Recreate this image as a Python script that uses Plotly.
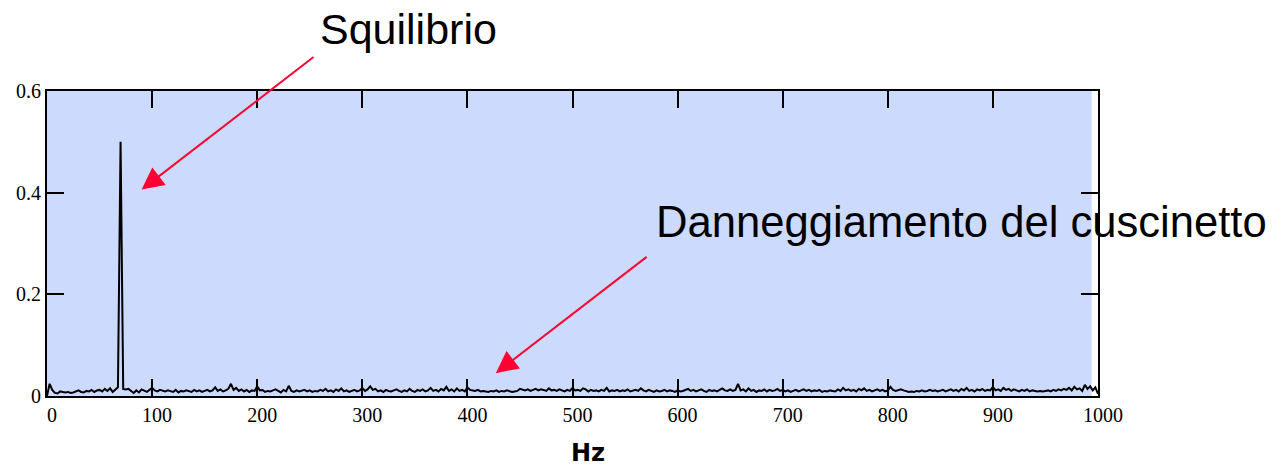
import plotly.graph_objects as go

# Frequency grid (Hz)
freqs = [
    0, 2.5, 5, 7.5, 10, 12.5, 15, 17.5, 20, 22.5, 25, 27.5, 30, 32.5, 35, 37.5, 40, 42.5, 45, 47.5,
    50, 52.5, 55, 57.5, 60, 62.5, 65, 67.5, 70, 72.5, 75, 77.5, 80, 82.5, 85, 87.5, 90, 92.5, 95, 97.5,
    100, 102.5, 105, 107.5, 110, 112.5, 115, 117.5, 120, 122.5, 125, 127.5, 130, 132.5, 135, 137.5, 140, 142.5, 145, 147.5,
    150, 152.5, 155, 157.5, 160, 162.5, 165, 167.5, 170, 172.5, 175, 177.5, 180, 182.5, 185, 187.5, 190, 192.5, 195, 197.5,
    200, 202.5, 205, 207.5, 210, 212.5, 215, 217.5, 220, 222.5, 225, 227.5, 230, 232.5, 235, 237.5, 240, 242.5, 245, 247.5,
    250, 252.5, 255, 257.5, 260, 262.5, 265, 267.5, 270, 272.5, 275, 277.5, 280, 282.5, 285, 287.5, 290, 292.5, 295, 297.5,
    300, 302.5, 305, 307.5, 310, 312.5, 315, 317.5, 320, 322.5, 325, 327.5, 330, 332.5, 335, 337.5, 340, 342.5, 345, 347.5,
    350, 352.5, 355, 357.5, 360, 362.5, 365, 367.5, 370, 372.5, 375, 377.5, 380, 382.5, 385, 387.5, 390, 392.5, 395, 397.5,
    400, 402.5, 405, 407.5, 410, 412.5, 415, 417.5, 420, 422.5, 425, 427.5, 430, 432.5, 435, 437.5, 440, 442.5, 445, 447.5,
    450, 452.5, 455, 457.5, 460, 462.5, 465, 467.5, 470, 472.5, 475, 477.5, 480, 482.5, 485, 487.5, 490, 492.5, 495, 497.5,
    500, 502.5, 505, 507.5, 510, 512.5, 515, 517.5, 520, 522.5, 525, 527.5, 530, 532.5, 535, 537.5, 540, 542.5, 545, 547.5,
    550, 552.5, 555, 557.5, 560, 562.5, 565, 567.5, 570, 572.5, 575, 577.5, 580, 582.5, 585, 587.5, 590, 592.5, 595, 597.5,
    600, 602.5, 605, 607.5, 610, 612.5, 615, 617.5, 620, 622.5, 625, 627.5, 630, 632.5, 635, 637.5, 640, 642.5, 645, 647.5,
    650, 652.5, 655, 657.5, 660, 662.5, 665, 667.5, 670, 672.5, 675, 677.5, 680, 682.5, 685, 687.5, 690, 692.5, 695, 697.5,
    700, 702.5, 705, 707.5, 710, 712.5, 715, 717.5, 720, 722.5, 725, 727.5, 730, 732.5, 735, 737.5, 740, 742.5, 745, 747.5,
    750, 752.5, 755, 757.5, 760, 762.5, 765, 767.5, 770, 772.5, 775, 777.5, 780, 782.5, 785, 787.5, 790, 792.5, 795, 797.5,
    800, 802.5, 805, 807.5, 810, 812.5, 815, 817.5, 820, 822.5, 825, 827.5, 830, 832.5, 835, 837.5, 840, 842.5, 845, 847.5,
    850, 852.5, 855, 857.5, 860, 862.5, 865, 867.5, 870, 872.5, 875, 877.5, 880, 882.5, 885, 887.5, 890, 892.5, 895, 897.5,
    900, 902.5, 905, 907.5, 910, 912.5, 915, 917.5, 920, 922.5, 925, 927.5, 930, 932.5, 935, 937.5, 940, 942.5, 945, 947.5,
    950, 952.5, 955, 957.5, 960, 962.5, 965, 967.5, 970, 972.5, 975, 977.5, 980, 982.5, 985, 987.5, 990, 992.5, 995, 997.5,
    1000,
]

# Spectrum amplitude
amplitude = [
    0.000, 0.024, 0.012, 0.006, 0.005, 0.009, 0.008, 0.007, 0.008, 0.006, 0.007, 0.009, 0.011, 0.008, 0.007, 0.010, 0.009, 0.012, 0.008, 0.011,
    0.012, 0.009, 0.014, 0.010, 0.015, 0.008, 0.012, 0.017, 0.500, 0.014, 0.013, 0.014, 0.010, 0.006, 0.011, 0.007, 0.013, 0.010, 0.008, 0.012,
    0.016, 0.011, 0.009, 0.012, 0.010, 0.009, 0.011, 0.010, 0.008, 0.012, 0.007, 0.010, 0.009, 0.011, 0.010, 0.008, 0.012, 0.009, 0.011, 0.008,
    0.010, 0.012, 0.009, 0.011, 0.017, 0.010, 0.013, 0.009, 0.011, 0.014, 0.024, 0.012, 0.016, 0.010, 0.013, 0.009, 0.012, 0.008, 0.011, 0.010,
    0.019, 0.011, 0.012, 0.008, 0.010, 0.009, 0.011, 0.013, 0.010, 0.007, 0.012, 0.009, 0.020, 0.010, 0.008, 0.011, 0.009, 0.010, 0.012, 0.009,
    0.011, 0.008, 0.010, 0.009, 0.012, 0.010, 0.014, 0.009, 0.011, 0.008, 0.013, 0.010, 0.015, 0.009, 0.011, 0.008, 0.010, 0.012, 0.009, 0.011,
    0.016, 0.010, 0.013, 0.019, 0.012, 0.014, 0.009, 0.011, 0.008, 0.012, 0.010, 0.009, 0.011, 0.013, 0.010, 0.008, 0.011, 0.009, 0.014, 0.010,
    0.008, 0.012, 0.010, 0.013, 0.009, 0.011, 0.016, 0.010, 0.012, 0.009, 0.014, 0.011, 0.018, 0.010, 0.013, 0.009, 0.015, 0.010, 0.012, 0.009,
    0.017, 0.012, 0.011, 0.010, 0.012, 0.009, 0.010, 0.009, 0.008, 0.010, 0.009, 0.011, 0.008, 0.010, 0.009, 0.011, 0.010, 0.008, 0.009, 0.010,
    0.014, 0.012, 0.011, 0.013, 0.010, 0.012, 0.014, 0.011, 0.013, 0.012, 0.010, 0.015, 0.011, 0.012, 0.010, 0.013, 0.011, 0.009, 0.012, 0.010,
    0.016, 0.011, 0.012, 0.010, 0.015, 0.013, 0.009, 0.012, 0.010, 0.011, 0.009, 0.012, 0.010, 0.016, 0.009, 0.011, 0.010, 0.012, 0.009, 0.011,
    0.010, 0.013, 0.009, 0.011, 0.012, 0.010, 0.015, 0.011, 0.009, 0.012, 0.010, 0.008, 0.011, 0.009, 0.010, 0.012, 0.009, 0.011, 0.010, 0.008,
    0.011, 0.009, 0.010, 0.012, 0.014, 0.010, 0.012, 0.009, 0.011, 0.013, 0.010, 0.008, 0.012, 0.010, 0.011, 0.009, 0.012, 0.015, 0.011, 0.010,
    0.013, 0.010, 0.012, 0.024, 0.011, 0.013, 0.009, 0.015, 0.010, 0.012, 0.008, 0.011, 0.010, 0.013, 0.009, 0.012, 0.010, 0.011, 0.014, 0.010,
    0.012, 0.009, 0.011, 0.008, 0.010, 0.012, 0.009, 0.011, 0.013, 0.010, 0.012, 0.009, 0.011, 0.010, 0.012, 0.008, 0.010, 0.009, 0.011, 0.010,
    0.009, 0.013, 0.010, 0.016, 0.011, 0.013, 0.010, 0.012, 0.009, 0.014, 0.011, 0.015, 0.010, 0.012, 0.009, 0.011, 0.013, 0.010, 0.012, 0.009,
    0.011, 0.018, 0.012, 0.010, 0.011, 0.013, 0.011, 0.009, 0.008, 0.009, 0.008, 0.010, 0.009, 0.011, 0.009, 0.010, 0.012, 0.010, 0.011, 0.009,
    0.010, 0.012, 0.009, 0.011, 0.013, 0.010, 0.012, 0.009, 0.014, 0.011, 0.016, 0.010, 0.012, 0.009, 0.013, 0.011, 0.014, 0.010, 0.012, 0.011,
    0.018, 0.011, 0.013, 0.010, 0.016, 0.012, 0.014, 0.010, 0.013, 0.011, 0.009, 0.012, 0.010, 0.013, 0.009, 0.011, 0.010, 0.009, 0.010, 0.009,
    0.010, 0.011, 0.009, 0.012, 0.010, 0.013, 0.011, 0.014, 0.012, 0.016, 0.011, 0.018, 0.013, 0.015, 0.010, 0.022, 0.014, 0.019, 0.011, 0.017,
    0.004,
]

x_ticks = [0, 100, 200, 300, 400, 500, 600, 700, 800, 900, 1000]
x_tick_labels = ["0", "100", "200", "300", "400", "500", "600", "700", "800", "900", "1000"]
y_ticks = [0, 0.2, 0.4, 0.6]
y_tick_labels = ["0", "0.2", "0.4", "0.6"]

label_unbalance = "Squilibrio"
label_bearing = "Danneggiamento del cuscinetto"
x_title = "Hz"

fig = go.Figure()
fig.add_trace(go.Scatter(
    x=freqs, y=amplitude, mode="lines",
    line=dict(color="black", width=2),
    showlegend=False, hoverinfo="skip",
))

fig.add_shape(type="rect", xref="x", yref="y", x0=0, x1=994, y0=0, y1=0.6,
              fillcolor="rgb(204,218,253)", line=dict(width=0), layer="below")

axis_common = dict(
    showline=True, linecolor="black", linewidth=2, mirror="ticks",
    ticks="inside", ticklen=17, tickwidth=1.5, tickcolor="black",
    showgrid=False, zeroline=False,
    tickfont=dict(family="Liberation Serif", size=20, color="black"),
)

fig.update_xaxes(range=[0, 1000], tickvals=x_ticks, ticktext=x_tick_labels,
                 ticklabelshift=5, **axis_common)
fig.update_yaxes(range=[0, 0.6], tickvals=y_ticks, ticktext=y_tick_labels,
                 **axis_common)

red = "rgb(255,0,51)"
fig.add_annotation(x=90, y=0.406, ax=255, ay=0.669, xref="x", yref="y", axref="x", ayref="y",
                   text="", showarrow=True, arrowhead=2, arrowsize=2.2, arrowwidth=2, arrowcolor=red)
fig.add_annotation(x=427, y=0.045, ax=572, ay=0.276, xref="x", yref="y", axref="x", ayref="y",
                   text="", showarrow=True, arrowhead=2, arrowsize=2.2, arrowwidth=2, arrowcolor=red)

fig.add_annotation(x=0.2579, y=1.203, xref="paper", yref="paper", xanchor="left", yanchor="middle",
                   text=label_unbalance, showarrow=False,
                   font=dict(family="Liberation Sans", size=43, color="black"))
fig.add_annotation(x=0.5775, y=0.570, xref="paper", yref="paper", xanchor="left", yanchor="middle",
                   text=label_bearing, showarrow=False,
                   font=dict(family="Liberation Sans", size=43.6, color="black"))
fig.add_annotation(x=0.5147, y=-0.1872, xref="paper", yref="paper", xanchor="center", yanchor="middle",
                   text="<b>" + x_title + "</b>", showarrow=False,
                   font=dict(family="DejaVu Sans", size=24, color="black"))

fig.update_layout(
    width=1280, height=471,
    margin=dict(l=47, r=182, t=91, b=75),
    paper_bgcolor="white", plot_bgcolor="white",
)

fig.write_html("out.html")
